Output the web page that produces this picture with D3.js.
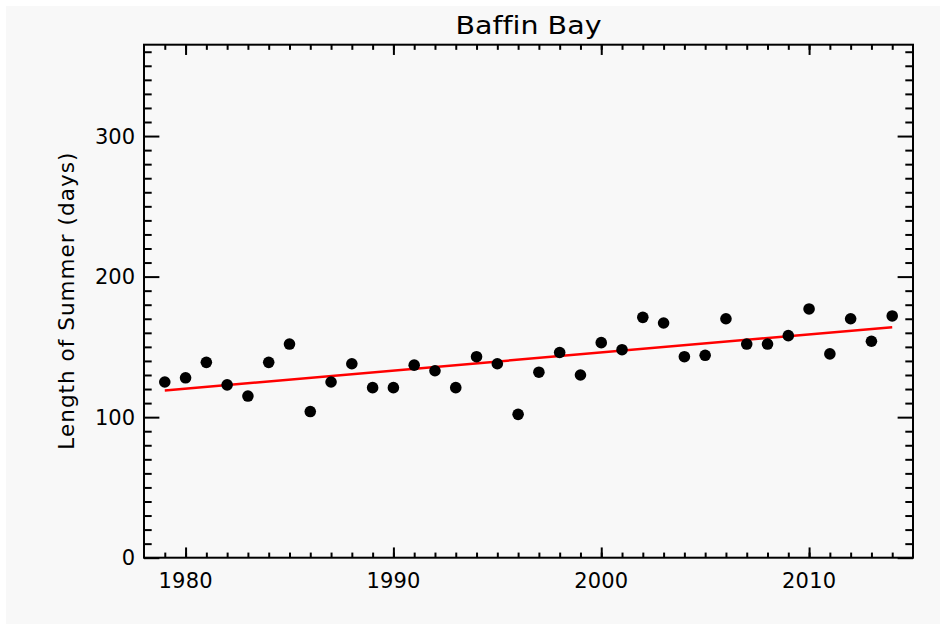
<!DOCTYPE html>
<html><head><meta charset="utf-8">
<script src="https://cdn.jsdelivr.net/npm/d3@7"></script>
<style>body{margin:0;background:#fff;} text{font-family:"DejaVu Sans",sans-serif;fill:#000;font-variant-ligatures:none;}</style>
</head><body><svg id="c" width="945" height="634"></svg>
<script>
const years = [1979,1980,1981,1982,1983,1984,1985,1986,1987,1988,1989,1990,1991,1992,1993,1994,1995,1996,1997,1998,1999,2000,2001,2002,2003,2004,2005,2006,2007,2008,2009,2010,2011,2012,2013,2014];
const summerDays = [125,128,139,123,115,139,152,104,125,138,121,121,137,133,121,143,138,102,132,146,130,153,148,171,167,143,144,170,152,152,158,177,145,170,154,172];
const trendYears = [1979, 2014];
const trendValues = [119, 164];
const xTickLabels = [1980, 1990, 2000, 2010];
const yTickLabels = [0, 100, 200, 300];
const title = "Baffin Bay";
const yTitle = "Length of Summer (days)";

const svg = d3.select("#c");
svg.append("rect").attr("x",6).attr("y",6).attr("width",934).attr("height",618).attr("fill","#f8f8f8");
const L=144, R=913, T=44.7, B=557.7;
const x = d3.scaleLinear().domain([1978,2015]).range([L,R]);
const y = d3.scaleLinear().domain([0,365]).range([B,T]);
const W=R-L, H=B-T;
const xMajLen = 0.02*H, yMajLen = 0.02*W;

function axisStyle(g){ g.select(".domain").remove(); g.selectAll("line").attr("stroke","#000").attr("stroke-width",2); }
const xMinor = d3.range(1979,2015);
const yMinor = d3.range(10,365,10).filter(v=>v%100!==0);
svg.append("g").attr("transform",`translate(0,${B})`).call(d3.axisTop(x).tickValues(xMinor).tickSize(xMajLen/2).tickFormat("")).call(axisStyle);
svg.append("g").attr("transform",`translate(0,${B})`).call(d3.axisTop(x).tickValues(xTickLabels).tickSize(xMajLen).tickFormat("")).call(axisStyle);
svg.append("g").attr("transform",`translate(0,${T})`).call(d3.axisBottom(x).tickValues(xMinor).tickSize(xMajLen/2).tickFormat("")).call(axisStyle);
svg.append("g").attr("transform",`translate(0,${T})`).call(d3.axisBottom(x).tickValues(xTickLabels).tickSize(xMajLen).tickFormat("")).call(axisStyle);
svg.append("g").attr("transform",`translate(${L},0)`).call(d3.axisRight(y).tickValues(yMinor).tickSize(yMajLen/2).tickFormat("")).call(axisStyle);
svg.append("g").attr("transform",`translate(${L},0)`).call(d3.axisRight(y).tickValues(yTickLabels).tickSize(yMajLen).tickFormat("")).call(axisStyle);
svg.append("g").attr("transform",`translate(${R},0)`).call(d3.axisLeft(y).tickValues(yMinor).tickSize(yMajLen/2).tickFormat("")).call(axisStyle);
svg.append("g").attr("transform",`translate(${R},0)`).call(d3.axisLeft(y).tickValues(yTickLabels).tickSize(yMajLen).tickFormat("")).call(axisStyle);

svg.append("rect").attr("x",L).attr("y",T).attr("width",W).attr("height",H).attr("fill","none").attr("stroke","#000").attr("stroke-width",2);

svg.append("g").selectAll("text").data(xTickLabels).join("text")
  .attr("x",d=>x(d)).attr("y",588).attr("text-anchor","middle").attr("font-size",21)
  .attr("textLength",54).attr("lengthAdjust","spacing").text(d=>d);
svg.append("g").selectAll("text").data(yTickLabels).join("text")
  .attr("x",135).attr("y",d=>y(d)+7.5).attr("text-anchor","end").attr("font-size",21).text(d=>d);

svg.append("text").attr("x",(L+R)/2).attr("y",34).attr("text-anchor","middle").attr("font-size",25)
  .attr("textLength",146).attr("lengthAdjust","spacingAndGlyphs").text(title);
svg.append("text").attr("transform",`translate(74,${(T+B)/2}) rotate(-90)`).attr("text-anchor","middle").attr("font-size",21.5)
  .attr("textLength",297).attr("lengthAdjust","spacing").text(yTitle);

svg.append("path").datum(trendYears.map((d,i)=>[d,trendValues[i]]))
  .attr("d",d3.line().x(d=>x(d[0])).y(d=>y(d[1]))).attr("stroke","#ff0000").attr("stroke-width",2.5).attr("fill","none");

svg.append("g").selectAll("circle").data(years).join("circle")
  .attr("cx",d=>x(d)).attr("cy",(d,i)=>y(summerDays[i])).attr("r",5.8).attr("fill","#000");
</script></body></html>
